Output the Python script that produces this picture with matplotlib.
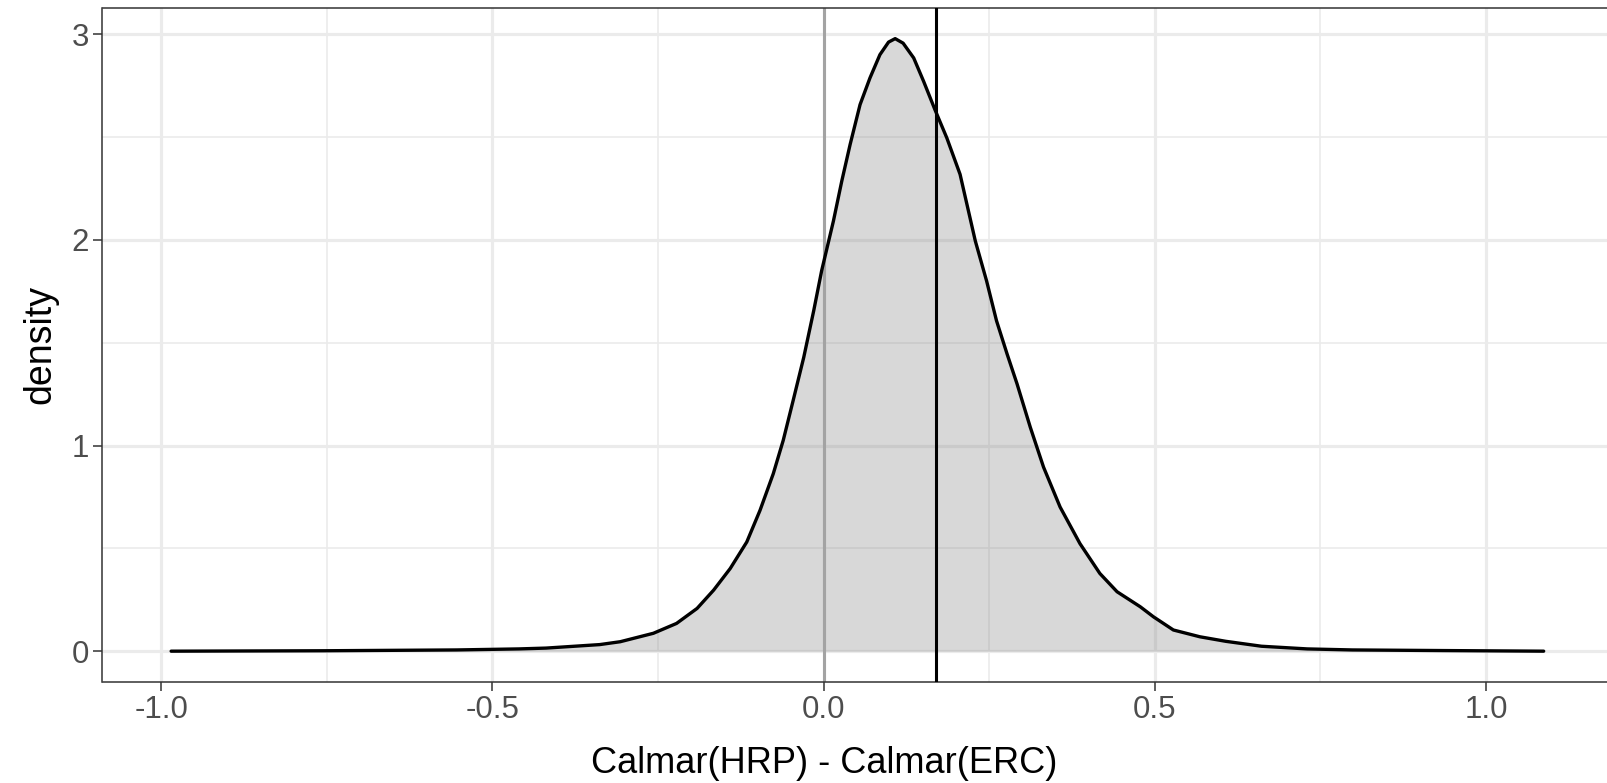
import numpy as np
import matplotlib.pyplot as plt

# density curve
diff = [-0.985, -0.756, -0.554, -0.46, -0.419, -0.338, -0.307, -0.257, -0.222, -0.191,
        -0.166, -0.141, -0.116, -0.096, -0.076, -0.061, -0.046, -0.030, -0.015, -0.003,
        0.0148, 0.0274, 0.040, 0.055, 0.070, 0.085, 0.098, 0.108, 0.120, 0.136,
        0.151, 0.168, 0.186, 0.206, 0.229, 0.246, 0.261, 0.277, 0.292, 0.312,
        0.332, 0.357, 0.387, 0.417, 0.443, 0.478, 0.498, 0.528, 0.568, 0.607,
        0.661, 0.73, 0.798, 0.934, 1.087]
dens = [0.0, 0.002, 0.006, 0.011, 0.015, 0.032, 0.046, 0.087, 0.135, 0.208,
        0.297, 0.402, 0.531, 0.685, 0.863, 1.025, 1.219, 1.429, 1.655, 1.85,
        2.092, 2.286, 2.464, 2.658, 2.788, 2.901, 2.962, 2.979, 2.957, 2.885,
        2.771, 2.634, 2.496, 2.319, 1.995, 1.801, 1.607, 1.445, 1.300, 1.089,
        0.895, 0.701, 0.523, 0.378, 0.289, 0.216, 0.167, 0.103, 0.070, 0.048,
        0.024, 0.011, 0.006, 0.003, 0.0]
zero_line = 0.0
mean_diff = 0.169

xticks = [-1.0, -0.5, 0.0, 0.5, 1.0]
xticklabels = ['-1.0', '-0.5', '0.0', '0.5', '1.0']
yticks = [0, 1, 2, 3]

plt.rcParams['font.family'] = ['Liberation Sans', 'DejaVu Sans']

W, H = 1608, 783
fig = plt.figure(figsize=(W / 100, H / 100), dpi=100)
left, right, top, bottom = 102.5, 1612.3, 8.0, 681.8
ax = fig.add_axes([left / W, (H - bottom) / H, (right - left) / W, (bottom - top) / H])

x = np.array(diff)
y = np.array(dens)
xr = x.max() - x.min()
ax.set_xlim(x.min() - 0.05 * xr, x.max() + 0.05 * xr)
ax.set_ylim(-0.05 * y.max(), y.max() * 1.05)

# grid like theme_bw
for v in [-0.75, -0.25, 0.25, 0.75]:
    ax.axvline(v, color='#EBEBEB', lw=1.2, zorder=0)
for v in [0.5, 1.5, 2.5]:
    ax.axhline(v, color='#EBEBEB', lw=1.2, zorder=0)
for v in xticks:
    ax.axvline(v, color='#EBEBEB', lw=2.3, zorder=0)
for v in yticks:
    ax.axhline(v, color='#EBEBEB', lw=2.3, zorder=0)

ax.fill_between(x, 0, y, color='#7F7F7F', alpha=0.3, lw=0, zorder=1)
ax.axvline(zero_line, color='#A3A3A3', lw=2.2, zorder=2)
ax.plot(x, y, color='black', lw=2.4, solid_capstyle='round',
        solid_joinstyle='round', zorder=3)
ax.axvline(mean_diff, color='black', lw=2.2, zorder=4)

ax.set_xticks(xticks)
ax.set_xticklabels(xticklabels)
ax.set_yticks(yticks)
ax.tick_params(axis='both', length=6.5, width=1.1, color='#333333',
               labelcolor='#4D4D4D', labelsize=22.5, pad=3)
for s in ax.spines.values():
    s.set_color('#333333')
    s.set_linewidth(1.1)

ax.set_xlabel('Calmar(HRP) - Calmar(ERC)', fontsize=26)
ax.xaxis.set_label_coords((824 - left) / (right - left), -0.096)
ax.set_ylabel('density', fontsize=27, labelpad=10)

fig.savefig('out.png', dpi=100)
